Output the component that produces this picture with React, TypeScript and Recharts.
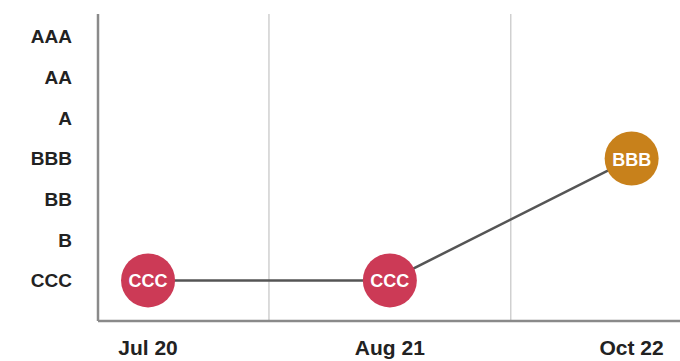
import { Line, LineChart, ReferenceLine, XAxis, YAxis } from "recharts";

// rating history, one point per review date
const dates = ["Jul 20", "Aug 21", "Oct 22"];
const ratings = ["CCC", "CCC", "BBB"];

// rating ladder from lowest to highest, used as y ticks
const ratingScale = ["CCC", "B", "BB", "BBB", "A", "AA", "AAA"];
const ratingColors: Record<string, string> = {
  CCC: "#cc3a56",
  BBB: "#c8811b",
};

const data = dates.map((date, i) => ({
  idx: i,
  date,
  rating: ratings[i],
  level: ratingScale.indexOf(ratings[i]),
}));

const font = "'Liberation Sans', Arial, sans-serif";

const RatingDot = (props: any) => {
  const { cx, cy, payload, index } = props;
  if (cx == null || cy == null) return null;
  return (
    <g key={`dot-${index}`}>
      <circle cx={cx} cy={cy} r={27} fill={ratingColors[payload.rating]} />
      <text
        x={cx}
        y={cy + 1}
        textAnchor="middle"
        dominantBaseline="central"
        fill="#ffffff"
        fontFamily={font}
        fontWeight={700}
        fontSize={18}
      >
        {payload.rating}
      </text>
    </g>
  );
};

export default function App() {
  return (
    <div style={{ position: "absolute", top: 0, left: 0, background: "#fff" }}>
      <LineChart
        width={680}
        height={361}
        data={data}
        margin={{ top: 14, right: 0, bottom: 0, left: 0 }}
      >
        <XAxis
          type="number"
          dataKey="idx"
          domain={[-0.207, 2.2]}
          ticks={[0, 1, 2]}
          allowDataOverflow
          tickFormatter={(i: number) => dates[i]}
          height={40}
          tickSize={0}
          tickMargin={19}
          axisLine={{ stroke: "#8a8a8a", strokeWidth: 2.5 }}
          tick={{ fill: "#222", fontFamily: font, fontWeight: 700, fontSize: 21 }}
        />
        <YAxis
          type="number"
          dataKey="level"
          domain={[-1, 6.56]}
          ticks={[0, 1, 2, 3, 4, 5, 6]}
          allowDataOverflow
          tickFormatter={(v: number) => ratingScale[v]}
          width={98}
          tickSize={0}
          tickMargin={26}
          axisLine={{ stroke: "#8a8a8a", strokeWidth: 2.5 }}
          tick={{ fill: "#222", fontFamily: font, fontWeight: 700, fontSize: 19 }}
        />
        <ReferenceLine x={0.5} stroke="#d0d0d0" strokeWidth={1.5} />
        <ReferenceLine x={1.5} stroke="#d0d0d0" strokeWidth={1.5} />
        <Line
          type="linear"
          dataKey="level"
          stroke="#555555"
          strokeWidth={2.5}
          dot={RatingDot}
          activeDot={false}
          isAnimationActive={false}
        />
      </LineChart>
    </div>
  );
}
